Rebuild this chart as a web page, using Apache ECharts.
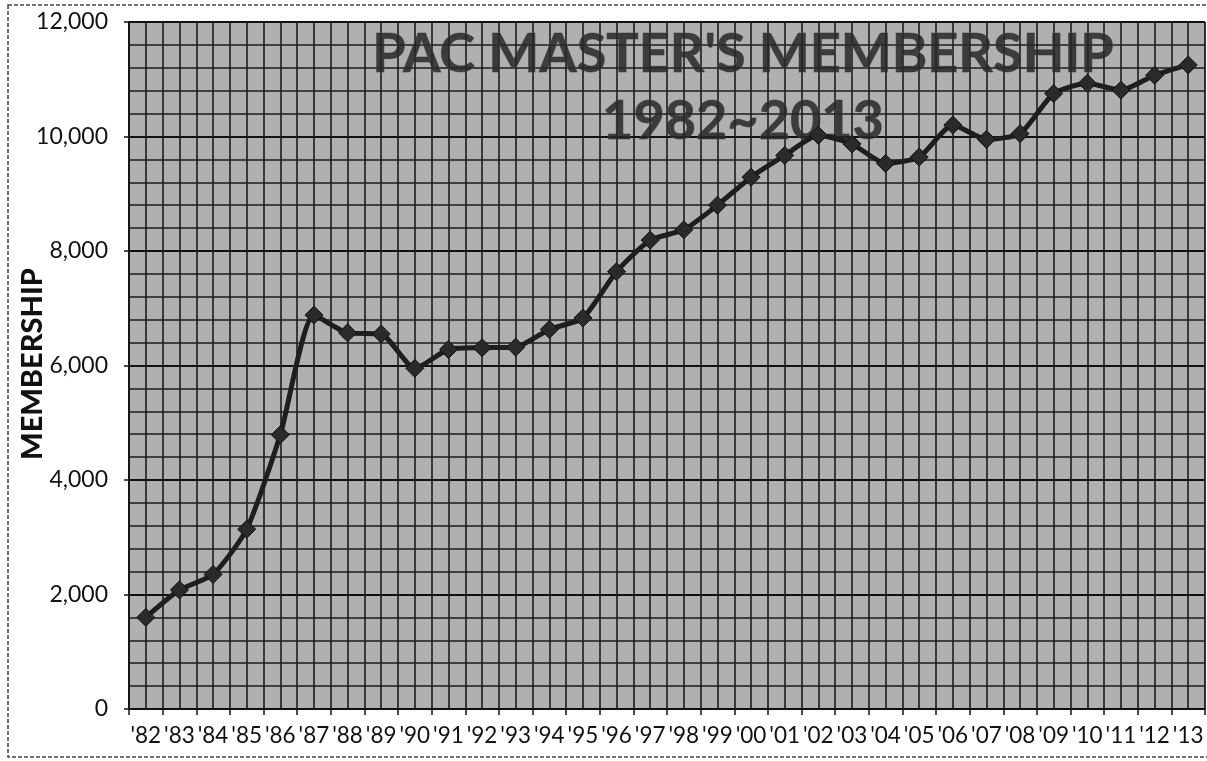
<!DOCTYPE html>
<html><head><meta charset="utf-8">
<script src="https://cdn.jsdelivr.net/npm/echarts@6/dist/echarts.min.js"></script>
<style>html,body{margin:0;padding:0;background:#fff}#c{width:1207px;height:761px}</style>
</head><body><div id="c"></div>
<script>
const years = ["'82","'83","'84","'85","'86","'87","'88","'89","'90","'91","'92","'93","'94","'95","'96","'97","'98","'99","'00","'01","'02","'03","'04","'05","'06","'07","'08","'09","'10","'11","'12","'13"];
const membership = [1600, 2080, 2350, 3140, 4790, 6880, 6570, 6550, 5950, 6280, 6310, 6320, 6630, 6830, 7640, 8190, 8370, 8800, 9290, 9670, 10020, 9870, 9530, 9640, 10200, 9950, 10050, 10750, 10930, 10810, 11070, 11250];
const titleLine1 = "PAC MASTER'S MEMBERSHIP";
const titleLine2 = "1982~2013";
const yName = "MEMBERSHIP";

const chart = echarts.init(document.getElementById('c'), null, {renderer: 'canvas'});
const lineCol = '#1e1e1e';
chart.setOption({
  animation: false,
  backgroundColor: '#ffffff',
  title: {
    text: titleLine1 + '\n' + titleLine2,
    left: 738, top: 16, textAlign: 'center',
    textStyle: {
      fontFamily: 'Lato', fontWeight: 'bold', fontSize: 54, lineHeight: 67,
      color: 'rgba(40,40,40,0.85)', textBorderColor: 'rgba(90,90,90,0.7)', textBorderWidth: 1
    }
  },
  graphic: [{
    type: 'rect', z: -1, silent: true,
    shape: {x: 8, y: 5, width: 1215, height: 752},
    style: {fill: 'none', stroke: '#444', lineWidth: 1.5, lineDash: [4, 2]}
  }, {
    type: 'text', silent: true, x: 33, y: 364, rotation: Math.PI / 2,
    style: {text: yName, fontFamily: 'Lato', fontWeight: 900, fontSize: 29, fill: '#111',
      align: 'center', verticalAlign: 'middle'}
  }],
  grid: {left: 129, right: 2, top: 22, bottom: 52, containLabel: false, outerBoundsMode: 'none',
    show: true, backgroundColor: '#b0b0b0', borderColor: '#222', borderWidth: 1},
  xAxis: [{
    type: 'category', data: years, boundaryGap: true,
    axisLine: {show: true, lineStyle: {color: '#111', width: 1.5}},
    axisTick: {show: true, alignWithLabel: false, length: 6, lineStyle: {color: '#111', width: 1.5}},
    axisLabel: {color: '#111', fontFamily: 'Lato', fontSize: 22.5, margin: 15, interval: 0, hideOverlap: false},
    splitLine: {show: false}
  }, {
    type: 'value', min: 0, max: 32, interval: 0.5, show: true, position: 'top',
    axisLine: {show: false}, axisTick: {show: false}, axisLabel: {show: false},
    splitLine: {show: true, lineStyle: {color: '#1c1c1c', width: 1.6}}
  }],
  yAxis: {
    type: 'value', min: 0, max: 12000, interval: 2000,
    axisLine: {show: true, lineStyle: {color: '#111', width: 1.5}},
    axisTick: {show: true, length: 5, lineStyle: {color: '#111', width: 1.5}},
    axisLabel: {color: '#111', fontFamily: 'Lato', fontSize: 23, margin: 21,
      formatter: v => v.toLocaleString('en-US')},
    splitLine: {show: true, lineStyle: {color: '#111', width: 1.8}},
    minorTick: {show: false, splitNumber: 5},
    minorSplitLine: {show: true, lineStyle: {color: '#1c1c1c', width: 1.6}}
  },
  series: [{
    type: 'line', data: membership, xAxisIndex: 0, z: 10,
    smooth: 0.2,
    symbol: 'diamond', symbolSize: 18,
    lineStyle: {color: lineCol, width: 5},
    itemStyle: {color: '#2a2a2a', borderColor: '#111', borderWidth: 1}
  }]
});
</script></body></html>
